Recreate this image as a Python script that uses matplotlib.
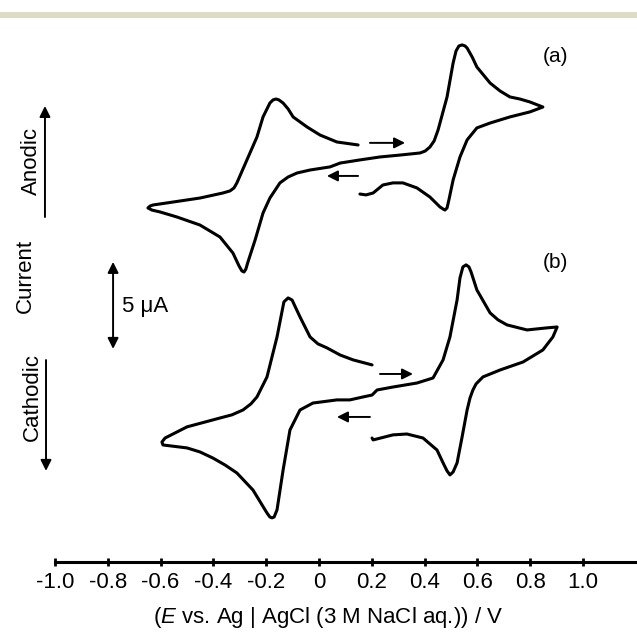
import matplotlib
matplotlib.use('Agg')
import matplotlib.pyplot as plt
from matplotlib.patches import Rectangle

plt.rcParams['font.family'] = ['Liberation Sans', 'DejaVu Sans']
plt.rcParams['mathtext.fontset'] = 'custom'
plt.rcParams['mathtext.rm'] = 'Liberation Sans'
plt.rcParams['mathtext.it'] = 'Liberation Sans:italic'

# potential (V) and current (uA, relative to each trace's own baseline)
E_a = [0.155, 0.178, 0.205, 0.242, 0.280, 0.318, 0.371, 0.420, 0.458, 0.470,
       0.477, 0.485, 0.492, 0.508, 0.534, 0.561, 0.598, 0.648, 0.723, 0.799,
       0.848, 0.799, 0.761, 0.723, 0.686, 0.648, 0.598, 0.580, 0.561, 0.553,
       0.542, 0.530, 0.519, 0.508, 0.485, 0.451, 0.436, 0.420, 0.402, 0.383,
       0.307, 0.231, 0.155, 0.080, 0.042, -0.034, -0.083, -0.117, -0.148, -0.186,
       -0.212, -0.242, -0.269, -0.277, -0.284, -0.292, -0.303, -0.326, -0.375, -0.451,
       -0.538, -0.602, -0.633, -0.648, -0.640, -0.629, -0.553, -0.451, -0.364, -0.337,
       -0.322, -0.311, -0.273, -0.235, -0.212, -0.186, -0.174, -0.163, -0.152, -0.136,
       -0.117, -0.098, -0.045, 0.004, 0.068, 0.148]
I_a = [-1.67, -1.72, -1.61, -1.15, -1.03, -1.03, -1.32, -1.84, -2.41, -2.53,
       -2.59, -2.47, -2.01, -0.86, 0.46, 1.44, 2.13, 2.41, 2.76, 3.05,
       3.33, 3.62, 3.79, 3.91, 4.25, 4.71, 5.63, 6.21, 6.72, 6.84,
       6.90, 6.84, 6.55, 5.86, 3.91, 2.01, 1.38, 1.03, 0.80, 0.69,
       0.57, 0.46, 0.29, 0.11, -0.11, -0.29, -0.46, -0.69, -1.03, -1.90,
       -2.76, -4.31, -5.57, -5.98, -6.15, -6.09, -5.80, -5.06, -4.14, -3.45,
       -2.99, -2.70, -2.59, -2.47, -2.36, -2.30, -2.13, -1.90, -1.61, -1.49,
       -1.32, -1.03, 0.29, 1.61, 2.76, 3.56, 3.74, 3.79, 3.74, 3.56,
       3.22, 2.76, 2.18, 1.72, 1.32, 1.15]

E_b = [0.201, 0.205, 0.280, 0.333, 0.394, 0.447, 0.470, 0.485, 0.496, 0.508,
       0.523, 0.542, 0.561, 0.572, 0.583, 0.595, 0.621, 0.686, 0.773, 0.848,
       0.886, 0.902, 0.864, 0.788, 0.712, 0.678, 0.648, 0.598, 0.576, 0.568,
       0.557, 0.545, 0.534, 0.523, 0.496, 0.470, 0.432, 0.371, 0.280, 0.220,
       0.201, 0.167, 0.117, 0.068, -0.023, -0.072, -0.110, -0.136, -0.159, -0.170,
       -0.178, -0.186, -0.197, -0.250, -0.311, -0.356, -0.402, -0.451, -0.500, -0.591,
       -0.595, -0.583, -0.500, -0.375, -0.330, -0.288, -0.258, -0.235, -0.197, -0.159,
       -0.133, -0.117, -0.102, -0.072, -0.034, -0.004, 0.030, 0.080, 0.129, 0.201]
I_b = [-1.90, -2.01, -1.72, -1.67, -1.90, -2.59, -3.33, -3.79, -4.02, -3.85,
       -3.33, -1.84, -0.29, 0.40, 0.86, 1.21, 1.61, 2.01, 2.47, 3.16,
       3.91, 4.48, 4.43, 4.31, 4.60, 4.89, 5.29, 6.61, 7.64, 7.93,
       8.05, 7.93, 7.30, 6.03, 3.91, 2.59, 1.55, 1.26, 1.03, 0.86,
       0.57, 0.46, 0.29, 0.29, 0.11, -0.29, -1.44, -3.74, -6.03, -6.44,
       -6.49, -6.44, -6.21, -4.89, -3.91, -3.45, -3.05, -2.70, -2.47, -2.30,
       -2.13, -1.90, -1.26, -0.75, -0.57, -0.29, 0.06, 0.46, 1.61, 3.91,
       5.92, 6.15, 6.03, 5.06, 3.91, 3.51, 3.28, 2.87, 2.59, 2.30]

offset_a = 27.01
offset_b = 13.22

tick_vals = [-1.0, -0.8, -0.6, -0.4, -0.2, 0.0, 0.2, 0.4, 0.6, 0.8, 1.0]
tick_labels = ['-1.0', '-0.8', '-0.6', '-0.4', '-0.2', '0', '0.2', '0.4', '0.6', '0.8', '1.0']

fig = plt.figure(figsize=(6.37, 6.35), dpi=100)
ax = fig.add_axes([0, 0, 1, 1])
ax.set_xlim(-1.2083, 1.2045)
ax.set_ylim(0, 36.49)
ax.patch.set_alpha(0)

# beige strip at the top
fig.add_artist(Rectangle((0, (635 - 18) / 635), 1, 6 / 635,
                         transform=fig.transFigure, color='#dddac8', lw=0))

ax.plot(E_a, [v + offset_a for v in I_a], color='k', lw=2.2,
        solid_joinstyle='round', solid_capstyle='round')
ax.plot(E_b, [v + offset_b for v in I_b], color='k', lw=2.2,
        solid_joinstyle='round', solid_capstyle='round')

# x axis
for s in ['left', 'top', 'right']:
    ax.spines[s].set_visible(False)
ax.spines['bottom'].set_position(('data', 4.195))
ax.spines['bottom'].set_bounds(-1.0, 1.2045)
ax.spines['bottom'].set_linewidth(2.2)
ax.set_xticks(tick_vals)
ax.set_xticklabels(tick_labels)
ax.set_yticks([])
ax.tick_params(axis='x', direction='inout', length=6, width=2, labelsize=16, pad=4)

ax.text(0.034, 1.03, r'($\mathit{E}$ vs. Ag | AgCl (3 M NaCl aq.)) / V',
        ha='center', va='center', fontsize=16)

# scan direction arrows
arr = dict(arrowstyle='-|>', lw=1.4, color='k', mutation_scale=16,
           shrinkA=0, shrinkB=0)
ax.annotate('', xy=(0.326, 28.28), xytext=(0.193, 28.28), arrowprops=arr)
ax.annotate('', xy=(0.030, 26.38), xytext=(0.148, 26.38), arrowprops=arr)
ax.annotate('', xy=(0.356, 15.0), xytext=(0.231, 15.0), arrowprops=arr)
ax.annotate('', xy=(0.068, 12.53), xytext=(0.193, 12.53), arrowprops=arr)

# current direction arrows and labels
ax.annotate('', xy=(-1.038, 30.40), xytext=(-1.038, 24.02), arrowprops=arr)
ax.annotate('', xy=(-1.034, 9.43), xytext=(-1.034, 15.80), arrowprops=arr)
ax.annotate('', xy=(-0.780, 21.44), xytext=(-0.780, 16.44),
            arrowprops=dict(arrowstyle='<|-|>', lw=1.4, color='k',
                            mutation_scale=16, shrinkA=0, shrinkB=0))
ax.text(-1.091, 27.24, 'Anodic', rotation=90, ha='center', va='center', fontsize=16)
ax.text(-1.114, 20.63, 'Current', rotation=90, ha='center', va='center', fontsize=16)
ax.text(-1.087, 13.68, 'Cathodic', rotation=90, ha='center', va='center', fontsize=16)
ax.text(-0.746, 18.85, '5 μA', ha='left', va='center', fontsize=16)

ax.text(0.894, 33.22, '(a)', ha='center', va='center', fontsize=15)
ax.text(0.894, 21.38, '(b)', ha='center', va='center', fontsize=15)

fig.savefig('out.png', dpi=100)
